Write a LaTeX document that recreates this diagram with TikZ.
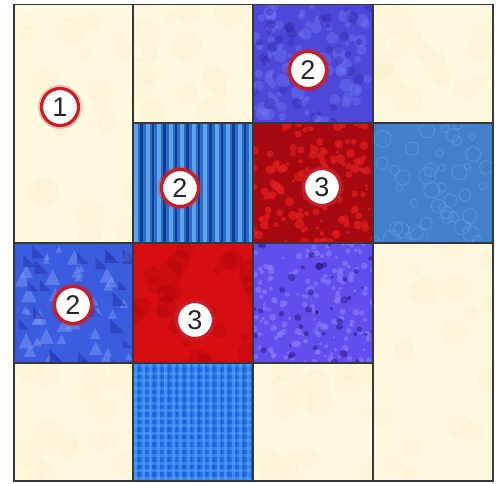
\documentclass[tikz,border=0pt]{standalone}
\usepackage{fontspec}
\setmainfont{Liberation Sans}
\definecolor{cream}{RGB}{253,248,222}
\definecolor{creamdark}{RGB}{250,236,190}
\definecolor{gridline}{RGB}{55,55,55}
\definecolor{violetblue}{RGB}{78,72,218}
\definecolor{violetlight}{RGB}{115,120,245}
\definecolor{violetdark}{RGB}{50,40,170}
\definecolor{stripelight}{RGB}{95,165,228}
\definecolor{stripemid}{RGB}{40,110,200}
\definecolor{stripedark}{RGB}{20,60,150}
\definecolor{deepred}{RGB}{165,8,14}
\definecolor{deepredlight}{RGB}{228,30,32}
\definecolor{brightred}{RGB}{214,14,18}
\definecolor{brightreddark}{RGB}{165,0,10}
\definecolor{steel}{RGB}{68,128,202}
\definecolor{steellight}{RGB}{105,160,222}
\definecolor{geoblue}{RGB}{58,92,222}
\definecolor{geolight}{RGB}{125,155,245}
\definecolor{geodark}{RGB}{35,50,170}
\definecolor{purpletex}{RGB}{98,78,236}
\definecolor{purplelight}{RGB}{135,130,252}
\definecolor{purpledark}{RGB}{45,20,140}
\definecolor{checkblue}{RGB}{30,110,232}
\definecolor{checklight}{RGB}{95,165,252}
\definecolor{checkdark}{RGB}{20,70,190}
\definecolor{badgered}{RGB}{200,30,40}
\definecolor{badgepink}{RGB}{246,196,196}
\pgfdeclareradialshading{badgeshade}{\pgfpoint{0bp}{0bp}}{color(0bp)=(white); color(30bp)=(white); color(46bp)=(badgepink); color(50bp)=(badgepink)}
\tikzset{
  badge/.style={circle, minimum size=37pt, inner sep=0pt, draw=badgered, line width=3.2pt,
    shading=badgeshade, font=\fontsize{27}{27}\selectfont, text=black!85},
  gridpen/.style={draw=gridline, line width=1.4pt},
}
\begin{document}
\begin{tikzpicture}[x=1pt,y=-1pt]
\useasboundingbox (0,0) rectangle (496,483);
\pgfmathsetseed{7}
% cream tiles
\foreach \xa/\ya/\xb/\yb in {14/4.5/133/243, 133/4.5/253/123, 373/4.5/493/123, 373/243/493/481, 14/363/133/481, 253/363/373/481}{
  \begin{scope}
    \clip (\xa,\ya) rectangle (\xb,\yb);
    \fill[cream] (\xa,\ya) rectangle (\xb,\yb);
    \foreach \i in {1,...,18}{
      \pgfmathsetmacro\px{\xa+(\xb-\xa)*rnd}
      \pgfmathsetmacro\py{\ya+(\yb-\ya)*rnd}
      \pgfmathsetmacro\pr{6+10*rnd}
      \fill[creamdark, opacity=0.15] (\px,\py) circle (\pr pt);
    }
  \end{scope}
}
% C: violet-blue top tile
\begin{scope}
  \clip (253,4.5) rectangle (373,123);
  \fill[violetblue] (253,4.5) rectangle (373,123);
  \foreach \i in {1,...,90}{
    \pgfmathsetmacro\px{253+120*rnd}
    \pgfmathsetmacro\py{4.5+119*rnd}
    \pgfmathsetmacro\pr{2+5*rnd}
    \fill[violetlight, opacity=0.4] (\px,\py) circle (\pr pt);
  }
  \foreach \i in {1,...,40}{
    \pgfmathsetmacro\px{253+120*rnd}
    \pgfmathsetmacro\py{4.5+119*rnd}
    \pgfmathsetmacro\pr{2+4*rnd}
    \fill[violetdark, opacity=0.4] (\px,\py) circle (\pr pt);
  }
\end{scope}
% E: stripes
\begin{scope}
  \clip (133,123) rectangle (253,243);
  \fill[stripemid] (133,123) rectangle (253,243);
  \foreach \k in {0,...,10}{
    \fill[stripelight] ({133+\k*11.5+1},123) rectangle ({133+\k*11.5+5},243);
    \fill[stripedark] ({133+\k*11.5+7},123) rectangle ({133+\k*11.5+9.5},243);
  }
\end{scope}
% F: deep red texture
\begin{scope}
  \clip (253,123) rectangle (373,243);
  \fill[deepred] (253,123) rectangle (373,243);
  \foreach \i in {1,...,140}{
    \pgfmathsetmacro\px{253+120*rnd}
    \pgfmathsetmacro\py{123+120*rnd}
    \pgfmathsetmacro\pr{1.5+3.5*rnd}
    \fill[deepredlight, opacity=0.7] (\px,\py) circle (\pr pt);
  }
\end{scope}
% G: steel blue paisley
\begin{scope}
  \clip (373,123) rectangle (493,243);
  \fill[steel] (373,123) rectangle (493,243);
  \foreach \i in {1,...,45}{
    \pgfmathsetmacro\px{373+120*rnd}
    \pgfmathsetmacro\py{123+120*rnd}
    \pgfmathsetmacro\pr{3+6*rnd}
    \draw[steellight, line width=1.1pt, opacity=0.45] (\px,\py) circle (\pr pt);
  }
\end{scope}
% H: geometric blue
\begin{scope}
  \clip (14,243) rectangle (133,363);
  \fill[geoblue] (14,243) rectangle (133,363);
  \foreach \i in {1,...,40}{
    \pgfmathsetmacro\px{14+119*rnd}
    \pgfmathsetmacro\py{243+120*rnd}
    \pgfmathsetmacro\ps{6+10*rnd}
    \fill[geolight, opacity=0.5] (\px,\py) -- ++(\ps,0) -- ++(-\ps/2,-\ps) -- cycle;
  }
  \foreach \i in {1,...,25}{
    \pgfmathsetmacro\px{14+119*rnd}
    \pgfmathsetmacro\py{243+120*rnd}
    \pgfmathsetmacro\ps{6+10*rnd}
    \fill[geodark, opacity=0.5] (\px,\py) -- ++(\ps,\ps) -- ++(-\ps,0) -- cycle;
  }
\end{scope}
% I: bright red
\begin{scope}
  \clip (133,243) rectangle (253,363);
  \fill[brightred] (133,243) rectangle (253,363);
  \foreach \i in {1,...,30}{
    \pgfmathsetmacro\px{133+120*rnd}
    \pgfmathsetmacro\py{243+120*rnd}
    \pgfmathsetmacro\pr{4+8*rnd}
    \fill[brightreddark, opacity=0.25] (\px,\py) circle (\pr pt);
  }
\end{scope}
% J: purple texture
\begin{scope}
  \clip (253,243) rectangle (373,363);
  \fill[purpletex] (253,243) rectangle (373,363);
  \foreach \i in {1,...,160}{
    \pgfmathsetmacro\px{253+120*rnd}
    \pgfmathsetmacro\py{243+120*rnd}
    \pgfmathsetmacro\pr{1.5+2*rnd}
    \fill[purplelight, opacity=0.6] (\px,\py) circle (\pr pt);
  }
  \foreach \i in {1,...,45}{
    \pgfmathsetmacro\px{253+120*rnd}
    \pgfmathsetmacro\py{243+120*rnd}
    \pgfmathsetmacro\pr{1.5+2.5*rnd}
    \fill[purpledark, opacity=0.55] (\px,\py) circle (\pr pt);
  }
\end{scope}
% M: blue check
\begin{scope}
  \clip (133,363) rectangle (253,481);
  \fill[checkblue] (133,363) rectangle (253,481);
  \foreach \k in {0,...,16}{
    \fill[checklight, opacity=0.55] ({133+\k*7.5+1},363) rectangle ({133+\k*7.5+4},481);
    \fill[checklight, opacity=0.45] (133,{363+\k*7.5+1}) rectangle (253,{363+\k*7.5+4});
    \fill[checkdark, opacity=0.35] ({133+\k*7.5+5},363) rectangle ({133+\k*7.5+6.5},481);
  }
\end{scope}
% grid lines
\coordinate (tl) at (14,4.5);
\coordinate (br) at (493,481);
\draw[gridpen] (tl) rectangle (br);
\draw[gridpen] (133,4.5) -- (133,481);
\draw[gridpen] (253,4.5) -- (253,481);
\draw[gridpen] (373,4.5) -- (373,481);
\draw[gridpen] (133,123) -- (493,123);
\draw[gridpen] (14,243) -- (493,243);
\draw[gridpen] (14,363) -- (373,363);
% badges
\foreach \nm/\bx/\by/\num in {n1/60/107/1, n2a/308/70/2, n2b/180/188/2, n3a/322/187/3, n2c/73/305/2, n3b/195/320/3}{
  \fill[badgered, opacity=0.25] (\bx,\by) circle (22pt);
  \node[badge] (\nm) at (\bx,\by) {\num};
}
\end{tikzpicture}
\end{document}
